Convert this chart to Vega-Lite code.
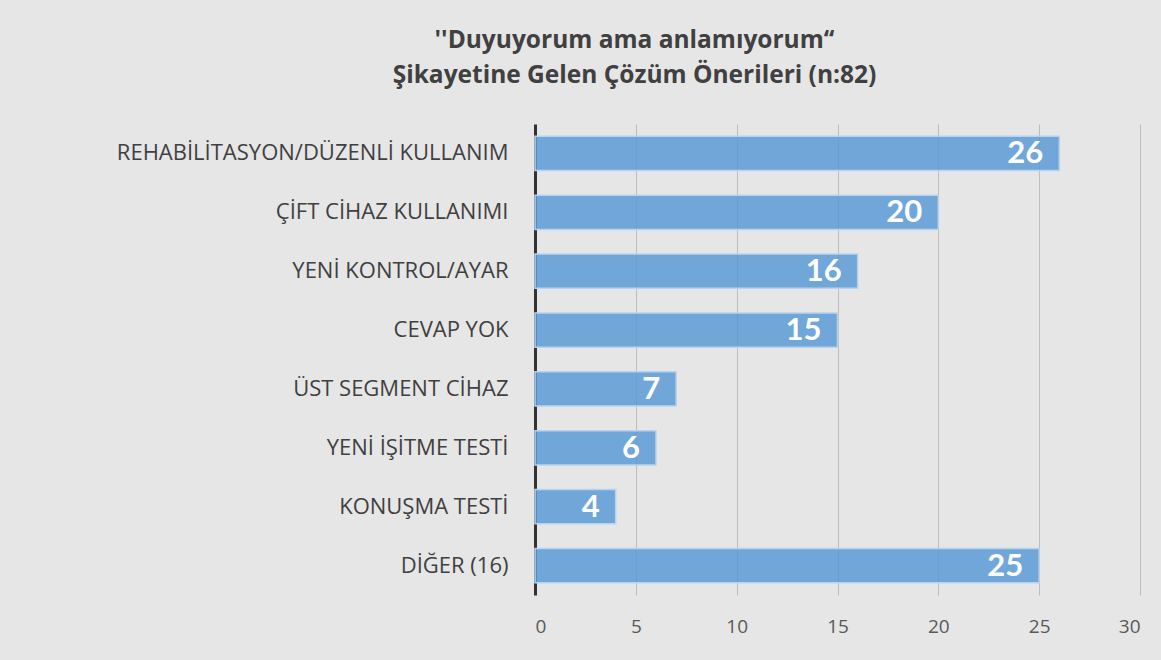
{
  "$schema": "https://vega.github.io/schema/vega-lite/v6.json",
  "autosize": "none",
  "width": 605,
  "height": 471,
  "padding": {"left": 535, "top": 124, "right": 21, "bottom": 65},
  "background": "#e6e6e6",
  "title": {
    "text": ["''Duyuyorum ama anlamıyorum‘‘", "Şikayetine Gelen Çözüm Önerileri (n:82)"],
    "anchor": "middle",
    "frame": "group",
    "dx": -203,
    "offset": 36,
    "fontSize": 24.5,
    "font": "Open Sans",
    "fontWeight": "bold",
    "color": "#404040",
    "lineHeight": 35
  },
  "data": {
    "values": [
      {"kategori": "REHABİLİTASYON/DÜZENLİ KULLANIM", "sayi": 26},
      {"kategori": "ÇİFT CİHAZ KULLANIMI", "sayi": 20},
      {"kategori": "YENİ KONTROL/AYAR", "sayi": 16},
      {"kategori": "CEVAP YOK", "sayi": 15},
      {"kategori": "ÜST SEGMENT CİHAZ", "sayi": 7},
      {"kategori": "YENİ İŞİTME TESTİ ", "sayi": 6},
      {"kategori": "KONUŞMA TESTİ", "sayi": 4},
      {"kategori": "DİĞER (16)", "sayi": 25}
    ]
  },
  "encoding": {
    "y": {
      "field": "kategori",
      "type": "nominal",
      "sort": null,
      "scale": {"paddingInner": 0.42, "paddingOuter": 0.21},
      "axis": {
        "title": null,
        "ticks": false,
        "labelPadding": 27,
        "labelFont": "Open Sans",
        "labelFontSize": 22,
        "labelColor": "#404040",
        "labelLimit": 600,
        "domainColor": "#333333",
        "domainWidth": 3
      }
    },
    "x": {
      "field": "sayi",
      "type": "quantitative",
      "scale": {"domain": [0, 30], "nice": false},
      "axis": {
        "title": null,
        "values": [0, 5, 10, 15, 20, 25, 30],
        "ticks": false,
        "domain": false,
        "labelPadding": 22,
        "labelFont": "Open Sans",
        "labelFontSize": 19,
        "labelColor": "#595959",
        "gridColor": "#bdbdbd",
        "gridWidth": 1
      }
    }
  },
  "layer": [
    {
      "mark": {"type": "bar", "fill": "#5b9bd5", "fillOpacity": 0.85, "stroke": "#b8d3ee", "strokeWidth": 1.5}
    },
    {
      "mark": {"type": "text", "align": "right", "baseline": "middle", "dx": -16, "dy": 1, "font": "Lato", "fontSize": 31, "fontWeight": "bold", "color": "white"},
      "encoding": {"text": {"field": "sayi", "type": "quantitative"}}
    }
  ],
  "config": {"view": {"stroke": null}}
}
